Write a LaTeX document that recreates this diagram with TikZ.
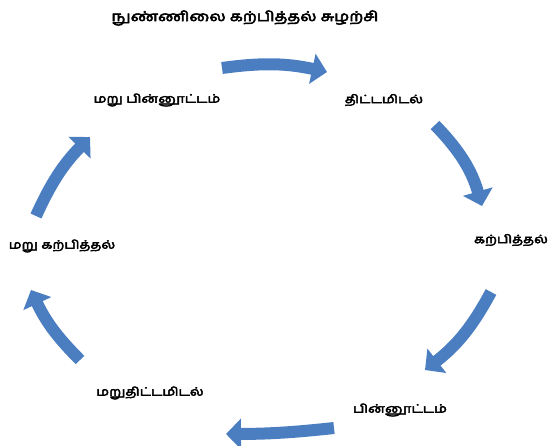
\documentclass[tikz,border=0pt]{standalone}
\usepackage{fontspec}
\newfontfamily\tamil[Script=Tamil, FakeStretch=1.25, FakeBold=4]{Hind Madurai}
\usetikzlibrary{arrows.meta}
\definecolor{arrowblue}{RGB}{74,126,193}
\tikzset{
  lbl/.style={font=\tamil\fontsize{11.5}{13}\selectfont, inner sep=1pt},
  ttl/.style={font=\tamil\fontsize{13.5}{15}\selectfont, inner sep=1pt},
  blockarrow/.style={draw=arrowblue, line width=12pt,
    -{Triangle[width=30pt,length=15pt]}, arrowblue}
}
\begin{document}
\begin{tikzpicture}[x=1pt,y=-1pt]
\useasboundingbox (0,0) rectangle (552,446);
\node[ttl] (title) at (245,18) {நுண்ணிலை கற்பித்தல் சுழற்சி};
\node[lbl] (plan) at (384,100) {திட்டமிடல்};
\node[lbl] (teach) at (511,240) {கற்பித்தல்};
\node[lbl] (feed) at (400,410) {பின்னூட்டம்};
\node[lbl] (replan) at (150,393) {மறுதிட்டமிடல்};
\node[lbl] (reteach) at (62,246) {மறு கற்பித்தல்};
\node[lbl] (refeed) at (157,100) {மறு பின்னூட்டம்};
\coordinate (a1s) at (222,68);
\coordinate (a1e) at (327,72);
\coordinate (a2s) at (435,125);
\coordinate (a2e) at (482,206);
\coordinate (a3s) at (491,292);
\coordinate (a3e) at (425,370);
\coordinate (a4s) at (334,428);
\coordinate (a4e) at (226,434);
\coordinate (a5s) at (80,360);
\coordinate (a5e) at (31,290);
\coordinate (a6s) at (36,216);
\coordinate (a6e) at (90,137);
\draw[blockarrow] (a1s) to[bend left=10] (a1e);
\draw[blockarrow] (a2s) to[bend left=14] (a2e);
\draw[blockarrow] (a3s) to[bend left=12] (a3e);
\draw[blockarrow] (a4s) to[bend left=3] (a4e);
\draw[blockarrow] (a5s) to[bend left=10] (a5e);
\draw[blockarrow] (a6s) to[bend left=10] (a6e);
\end{tikzpicture}
\end{document}
